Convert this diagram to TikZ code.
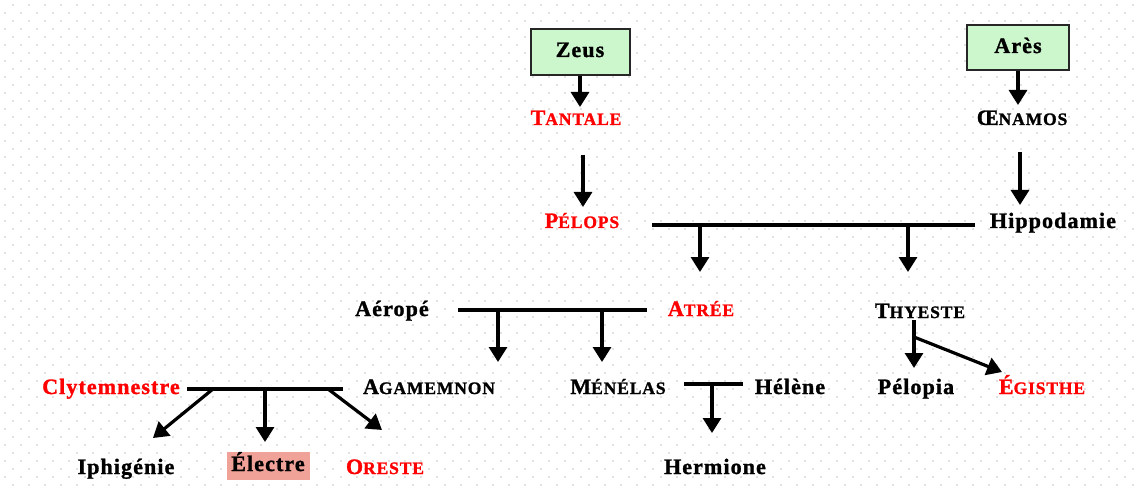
\documentclass[tikz,border=0pt]{standalone}
\usepackage{fontspec}
\setmainfont{Liberation Serif}[LetterSpace=5,BoldFeatures={FakeBold=1.3}]
\usetikzlibrary{arrows.meta}
\definecolor{dotc}{RGB}{196,196,196}
\definecolor{boxg}{RGB}{204,246,204}
\definecolor{elec}{RGB}{240,162,152}
\definecolor{redn}{RGB}{255,0,0}
\newcommand{\fsc}[2]{#1{\fontsize{17.5}{19}\selectfont #2}}
\begin{document}
\begin{tikzpicture}[x=1pt,y=-1pt,
  txt/.style={inner sep=1pt,text height=15pt,text depth=5pt,font=\bfseries\fontsize{22}{24}\selectfont},
  redtxt/.style={txt,text=redn},
  godbox/.style={txt,draw=black!85,line width=2pt,fill=boxg,minimum width=99pt,minimum height=46pt},
  hibox/.style={txt,fill=elec,minimum width=83pt,minimum height=28pt},
  link/.style={line width=3.2pt,draw=black},
  arr/.style={line width=3.2pt,draw=black,-{Triangle[width=18pt,length=15pt]}}]
\fill[white] (0,0) rectangle (1136,492);
\useasboundingbox (0,0) rectangle (1136,492);
\foreach \i in {0,...,70}{\foreach \j in {0,...,30}{%
  \fill[dotc] (16*\i+5,16*\j+13) circle (0.9);
  \fill[dotc] (16*\i+13,16*\j+5) circle (0.9);}}
% nodes
\node[godbox] (zeus) at (580,52) {Zeus};
\node[godbox,minimum width=102pt,minimum height=45pt] (ares) at (1018,48) {Arès};
\node[redtxt] (tantale) at (576,120) {\fsc{T}{ANTALE}};
\node[txt] (oenamos) at (1022,120) {\fsc{Œ}{NAMOS}};
\node[redtxt] (pelops) at (582,223) {\fsc{P}{ÉLOPS}};
\node[txt] (hippo) at (1053,223) {Hippodamie};
\node[txt] (aerope) at (392,311) {Aéropé};
\node[redtxt] (atree) at (701,311) {\fsc{A}{TRÉE}};
\node[txt] (thyeste) at (920,313) {\fsc{T}{HYESTE}};
\node[redtxt] (clyt) at (111,389) {Clytemnestre};
\node[txt] (agam) at (429,389) {\fsc{A}{GAMEMNON}};
\node[txt] (menelas) at (618,389) {\fsc{M}{ÉNÉLAS}};
\node[txt] (helene) at (790,389) {Hélène};
\node[txt] (pelopia) at (916,389) {Pélopia};
\node[redtxt] (egisthe) at (1042,389) {\fsc{É}{GISTHE}};
\node[txt] (iphi) at (126,469) {Iphigénie};
\node[hibox] (electre) at (268,466) {Électre};
\node[redtxt] (oreste) at (385,469) {\fsc{O}{RESTE}};
\node[txt] (hermione) at (715,469) {Hermione};
% junction coordinates
\coordinate (zt) at (580,107);
\coordinate (tp1) at (583,155); \coordinate (tp2) at (583,207);
\coordinate (ao) at (1018,105);
\coordinate (oh1) at (1020,152); \coordinate (oh2) at (1020,205);
\coordinate (pm1) at (652,225); \coordinate (pm2) at (975,225);
\coordinate (pa) at (700,225); \coordinate (pat) at (700,272);
\coordinate (pt) at (908,225); \coordinate (ptt) at (908,272);
\coordinate (am1) at (458,310); \coordinate (am2) at (647,310);
\coordinate (aa) at (498,310); \coordinate (aat) at (498,362);
\coordinate (am) at (602,310); \coordinate (amt) at (602,362);
\coordinate (th1) at (914,320); \coordinate (tht) at (914,368);
\coordinate (th2) at (914,337); \coordinate (tet) at (1002,372);
\coordinate (cm1) at (187,389); \coordinate (cm2) at (343,389);
\coordinate (ci) at (213,389); \coordinate (cit) at (153,438);
\coordinate (ce) at (265,389); \coordinate (cet) at (265,442);
\coordinate (co) at (328,389); \coordinate (cot) at (382,430);
\coordinate (mm1) at (684,384); \coordinate (mm2) at (743,384);
\coordinate (mh) at (712,384); \coordinate (mht) at (712,433);
% connectors
\draw[arr] (zeus.south) -- (zt);
\draw[arr] (tp1) -- (tp2);
\draw[arr] (ares.south) -- (ao);
\draw[arr] (oh1) -- (oh2);
\draw[link] (pm1) -- (pm2);
\draw[arr] (pa) -- (pat);
\draw[arr] (pt) -- (ptt);
\draw[link] (am1) -- (am2);
\draw[arr] (aa) -- (aat);
\draw[arr] (am) -- (amt);
\draw[arr] (th1) -- (tht);
\draw[arr] (th2) -- (tet);
\draw[link] (cm1) -- (cm2);
\draw[arr] (ci) -- (cit);
\draw[arr] (ce) -- (cet);
\draw[arr] (co) -- (cot);
\draw[link] (mm1) -- (mm2);
\draw[arr] (mh) -- (mht);
\end{tikzpicture}
\end{document}
